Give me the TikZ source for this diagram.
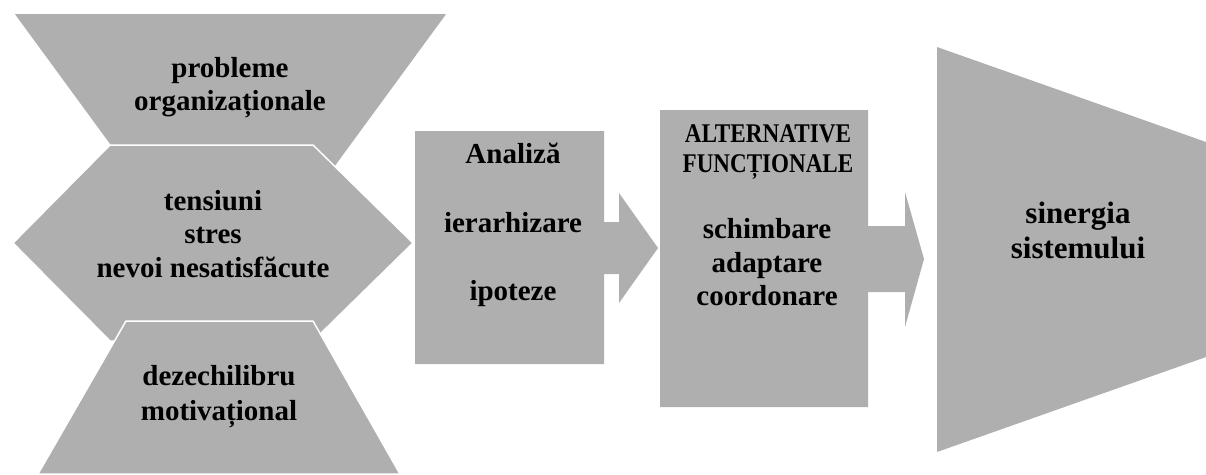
\documentclass[tikz,border=0pt]{standalone}
\usepackage{fontspec}
\setmainfont{Liberation Serif}
\usepackage{graphicx}
\definecolor{shapegray}{HTML}{AFAFAF}
\begin{document}
\begin{tikzpicture}[x=1pt,y=-1pt,
  shp/.style={fill=shapegray, draw=white, line width=1.5pt, line join=miter},
  blk/.style={fill=shapegray, draw=none},
  lbl/.style={font=\fontsize{29}{33}\selectfont\bfseries, inner sep=0pt, anchor=base},
  lblbig/.style={font=\fontsize{31}{35}\selectfont\bfseries, inner sep=0pt, anchor=base},
  lblcaps/.style={font=\fontsize{27}{30}\selectfont\bfseries, inner sep=0pt, anchor=base}]
\useasboundingbox (0,0) rectangle (1206,474);
% left stack
\path[shp] (13,13) -- (448,13) -- (333,170) -- (128,170) -- cycle;
\path[shp] (13,243) -- (110,145) -- (313,145) -- (413,243) -- (313,341) -- (110,341) -- cycle;
\path[shp] (126,321) -- (313,321) -- (400,474) -- (38,474) -- cycle;
% arrow callouts
\path[blk] (415,131) -- (604,131) -- (604,222) -- (619,222) -- (619,193) -- (658,248)
  -- (619,303) -- (619,274) -- (604,274) -- (604,364) -- (415,364) -- cycle;
\path[blk] (660,110) -- (868,110) -- (868,226) -- (905,226) -- (905,192) -- (924,259)
  -- (905,327) -- (905,292) -- (868,292) -- (868,407) -- (660,407) -- cycle;
% result
\path[blk] (937,47) -- (1206,142) -- (1206,357) -- (937,452) -- cycle;
% texts
\node[lbl] (p1) at (230,77) {probleme};
\node[lbl] (p2) at (230,110) {organizaționale};
\node[lbl] (h1) at (213,210) {tensiuni};
\node[lbl] (h2) at (213,243) {stres};
\node[lbl] (h3) at (213,277) {nevoi nesatisfăcute};
\node[lbl] (d1) at (219,385) {dezechilibru};
\node[lbl] (d2) at (219,420) {motivațional};
\node[lbl] (a1) at (513,163) {Analiză};
\node[lbl] (a2) at (513,232) {ierarhizare};
\node[lbl] (a3) at (513,300) {ipoteze};
\node[lblcaps] (b1) at (768,142) {\scalebox{0.86}[1]{ALTERNATIVE}};
\node[lblcaps] (b2) at (768,172) {\scalebox{0.855}[1]{FUNCȚIONALE}};
\node[lbl] (b3) at (767,238) {schimbare};
\node[lbl] (b4) at (767,272) {adaptare};
\node[lbl] (b5) at (767,305) {coordonare};
\node[lblbig] (s1) at (1078,223) {sinergia};
\node[lblbig] (s2) at (1078,258) {sistemului};
\end{tikzpicture}
\end{document}
